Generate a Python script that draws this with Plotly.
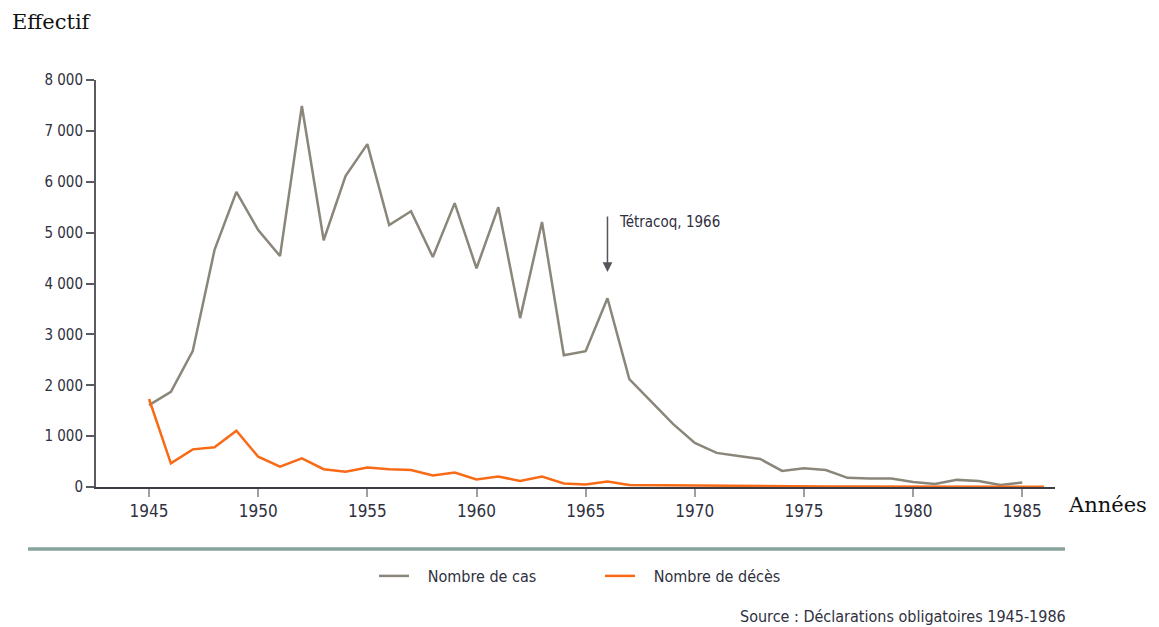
import plotly.graph_objects as go

annees_cas = list(range(1945, 1986))
nombre_cas = [1610, 1870, 2670, 4660, 5800, 5050, 4540, 7490, 4850, 6110,
              6740, 5150, 5420, 4520, 5580, 4300, 5500, 3320, 5210, 2590,
              2670, 3710, 2120, 1690, 1240, 865, 670, 610, 550, 315,
              370, 335, 180, 165, 165, 100, 60, 140, 120, 40, 90]
annees_deces = list(range(1945, 1987))
nombre_deces = [1730, 465, 740, 780, 1105, 595, 400, 565, 350, 300,
                385, 350, 335, 225, 285, 150, 205, 120, 205, 70,
                50, 110, 40, 35, 30, 25, 20, 15, 15, 12,
                10, 10, 8, 8, 6, 6, 5, 5, 4, 4, 3, 3]
y_ticks = [0, 1000, 2000, 3000, 4000, 5000, 6000, 7000, 8000]
y_tick_labels = ["0", "1 000", "2 000", "3 000", "4 000", "5 000", "6 000", "7 000", "8 000"]
x_ticks = [1945, 1950, 1955, 1960, 1965, 1970, 1975, 1980, 1985]

# page body has an 8px margin: figure drawn at screen offset (8, 8)
OFF = 8
SW, SH = 1159, 627
W, H = SW - OFF, SH - OFF
L, R, T, B = 96, 1055, 80, 487  # plot area in screen pixels
cond = "DejaVu Sans Condensed, Liberation Sans Narrow, Roboto Condensed, DejaVu Sans, sans-serif"
serif = "DejaVu Serif, Liberation Serif, serif"
pad = "\u00a0\u00a0\u00a0"

def px_x(p):
    return (p - L) / (R - L)

def px_y(p):
    return (B - p) / (B - T)

fig = go.Figure()
fig.add_trace(go.Scatter(x=annees_cas, y=nombre_cas, mode="lines", name=pad + "Nombre de cas",
                         line=dict(color="#8a8679", width=2.5)))
fig.add_trace(go.Scatter(x=annees_deces, y=nombre_deces, mode="lines", name=pad + "Nombre de décès",
                         line=dict(color="#f96a17", width=2.5)))

fig.update_layout(
    width=W, height=H,
    margin=dict(l=L - OFF, r=SW - R, t=T - OFF, b=SH - B),
    paper_bgcolor="white", plot_bgcolor="white",
    showlegend=True,
    legend=dict(orientation="h", x=px_x(374), y=px_y(559), xanchor="left", yanchor="top",
                font=dict(family=cond, size=16, color="#2f3040"),
                itemwidth=30,
                entrywidth=181, entrywidthmode="pixels", bgcolor="rgba(0,0,0,0)"),
    xaxis=dict(range=[1942.57, 1986.5], tickvals=x_ticks, showgrid=False, zeroline=False,
               showline=True, linecolor="#3c3c44", linewidth=2,
               ticks="outside", ticklen=8, tickwidth=1.5, tickcolor="#a0a0a0",
               tickfont=dict(family=cond, size=17, color="#2f3040")),
    yaxis=dict(range=[0, 8000], tickvals=y_ticks, ticktext=y_tick_labels, showgrid=False,
               zeroline=False, showline=True, linecolor="#5a5a60", linewidth=2,
               ticks="outside", ticklen=8, tickwidth=1.5, tickcolor="#5a5a60",
               tickfont=dict(family=cond, size=15, color="#2f3040")),
)

fig.add_annotation(x=1966, y=4225, ax=1966, ay=5345, axref="x", ayref="y",
                   xref="x", yref="y", showarrow=True, arrowhead=2, arrowsize=1.3,
                   arrowwidth=1.5, arrowcolor="#55565c", text="")
fig.add_annotation(x=1966.45, y=5210, xref="x", yref="y", text="Tétracoq, 1966",
                   showarrow=False, xanchor="left", yanchor="middle",
                   font=dict(family=cond, size=15, color="#2f3040"))

fig.add_annotation(x=px_x(10), y=px_y(22), xref="paper", yref="paper", text="Effectif",
                   showarrow=False, xanchor="left", yanchor="middle",
                   font=dict(family=serif, size=21, color="#111111"))
fig.add_annotation(x=px_x(1066), y=px_y(505), xref="paper", yref="paper", text="Années",
                   showarrow=False, xanchor="left", yanchor="middle",
                   font=dict(family=serif, size=21, color="#111111"))
fig.add_annotation(x=px_x(1068), y=px_y(616), xref="paper", yref="paper",
                   text="Source : Déclarations obligatoires 1945-1986",
                   showarrow=False, xanchor="right", yanchor="middle",
                   font=dict(family=cond, size=16, color="#2f3040"))

fig.add_shape(type="line", xref="paper", yref="paper",
              x0=px_x(28), x1=px_x(1065), y0=px_y(549), y1=px_y(549),
              line=dict(color="#88a49c", width=3.5))

fig.write_html("out.html")
